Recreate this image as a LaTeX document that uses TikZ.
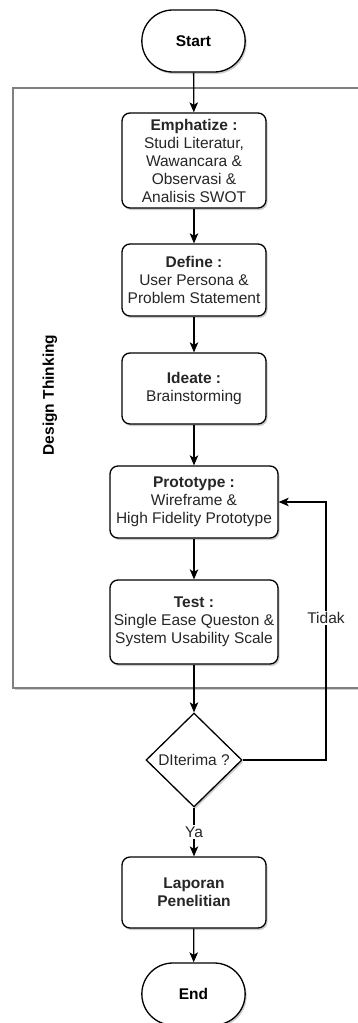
\documentclass[tikz,border=0pt]{standalone}
\usepackage{fontspec}
\setmainfont{Liberation Sans}
\usetikzlibrary{shapes.geometric,shapes.misc,arrows.meta,shadows}

\tikzset{
  shade/.style={drop shadow={shadow xshift=1.5pt, shadow yshift=-2pt, opacity=0.2, fill=black}},
  process/.style={draw, line width=1.3pt, rounded corners=8pt, fill=white, shade,
    minimum width=144pt, align=center, inner sep=2pt, text=black!85},
  terminal/.style={draw, line width=1.3pt, rounded rectangle, fill=white, shade,
    minimum width=110pt, minimum height=62pt, font=\fontsize{15.5}{18}\selectfont\bfseries},
  decision/.style={draw, line width=1.3pt, diamond, fill=white, shade,
    minimum width=96pt, minimum height=94pt, inner sep=0pt, text=black!85},
  flow/.style={line width=1.3pt, -{Stealth[length=10pt,width=8.5pt,inset=2.5pt]}},
  lbl/.style={fill=white, inner sep=1.5pt, text=black!85}
}

\begin{document}
\begin{tikzpicture}[x=1pt, y=-1pt, font=\fontsize{15.5}{18}\selectfont]
  \useasboundingbox (0,0) rectangle (358,1023);

  % design thinking frame
  \draw [gray, line width=1.3pt, fill=white, shade] (13,88) rectangle (372,688);
  \node [rotate=90, font=\fontsize{15.5}{18}\selectfont\bfseries] (dt) at (50,395) {Design Thinking};

  \node [terminal] (start) at (193.5,41) {Start};
  \node [process, minimum height=95pt] (emph) at (194,160.5)
    {\textbf{Emphatize :}\\ Studi Literatur,\\ Wawancara \&\\ Observasi \&\\ Analisis SWOT};
  \node [process, minimum height=72pt] (define) at (194,280)
    {\textbf{Define :}\\ User Persona \&\\ Problem Statement};
  \node [process, minimum height=71pt] (ideate) at (194,388.5)
    {\textbf{Ideate :}\\ Brainstorming};
  \node [process, minimum width=168pt, minimum height=72pt] (proto) at (194,502)
    {\textbf{Prototype :}\\ Wireframe \&\\ High Fidelity Prototype};
  \node [process, minimum width=168pt, minimum height=84pt] (test) at (194,622)
    {\textbf{Test :}\\ Single Ease Queston \&\\ System Usability Scale};
  \node [decision] (dia) at (194,760) {DIterima ?};
  \node [process, minimum height=71pt, font=\fontsize{15.5}{18}\selectfont\bfseries] (lap) at (194,892.5)
    {Laporan\\ Penelitian};
  \node [terminal] (end) at (193.5,994) {End};

  \draw [flow] (start) -- (emph);
  \draw [flow] (emph) -- (define);
  \draw [flow] (define) -- (ideate);
  \draw [flow] (ideate) -- (proto);
  \draw [flow] (proto) -- (test);
  \draw [flow] (test) -- (dia);
  \draw [flow] (dia) -- node [lbl] (ya) {Ya} (lap);
  \draw [flow] (lap) -- (end);

  % loop back
  \coordinate (back) at (326,760);
  \draw [flow] (dia.east) -- (back) |- (proto.east);
  \node [lbl] (tidak) at (326,618) {Tidak};
\end{tikzpicture}
\end{document}
